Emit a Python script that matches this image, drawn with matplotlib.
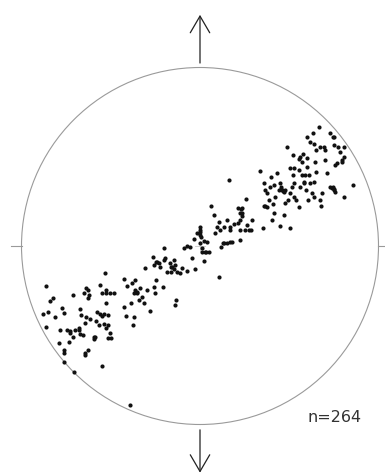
"""Equal-area net, 264 poles, n label bottom right."""
import numpy as np
import matplotlib
matplotlib.use("Agg")
import matplotlib.pyplot as plt
from matplotlib.patches import Circle

# digitised pole positions, net radius = R_NET units (east +, north +)
R_NET = 536
east = [
    -462, -442, -451, -472, -456, -462, -414, -409, -436, -421,
    -399, -391, -374, -381, -424, -394, -409, -407, -409, -379,
    -381, -349, -342, -334, -337, -359, -356, -341, -329, -344,
    -364, -359, -351, -337, -346, -319, -317, -312, -304, -299,
    -287, -277, -294, -282, -281, -269, -257, -284, -299, -289,
    -281, -277, -266, -294, -271, -309, -229, -219, -229, -221,
    -201, -199, -207, -194, -189, -181, -194, -204, -174, -167,
    -149, -184, -159, -139, -134, -111, -131, -164, -141, -129,
    -119, -107, -104, -89, -84, -74, -69, -59, -54, -39,
    -14, -109, -79, -71, -74, -124, -139, -99, -87, -49,
    -39, -29, -24, 1, 6, 16, 26, 13, 21, 11,
    -1, -1, -9, -19, 1, 33, 41, 56, 61, 71,
    81, 63, 69, 81, 96, 91, 101, 113, 119, 121,
    58, 86, 91, 46, 51, 114, 119, 121, 126, 126,
    139, 146, 141, 153, 156, 136, 179, 191, 194, 201,
    206, 191, 201, 189, 216, 221, 219, 226, 213, 231,
    239, 236, 246, 251, 256, 243, 256, 251, 241, 269,
    263, 271, 276, 281, 279, 281, 271, 261, 279, 296,
    301, 306, 309, 313, 319, 301, 306, 316, 326, 331,
    341, 323, 336, 341, 359, 363, 366, 349, 321, 346,
    349, 361, 356, 339, 321, 331, 341, 391, 401, 401,
    413, 421, 433, 431, 426, 411, 406, 376, 376, 371,
    391, 396, 401, 406, 431, 459, 381, 296, 311, 281,
    289, 296, 211, 221, -344, -316, -277, -294, -364, -389,
    -336, -281, 1, 4, 123, 125, 6, 19, -211, 244,
    249, 196, 401, 398, 399, 426, -197, -189, -87, -79,
    -131, 73, 91, 321,
]
north = [
    -119, -155, -165, -204, -197, -242, -187, -202, -212, -252,
    -252, -262, -252, -272, -292, -287, -312, -322, -347, -377,
    -147, -142, -127, -147, -157, -190, -207, -212, -220, -232,
    -247, -265, -267, -312, -327, -272, -280, -224, -237, -204,
    -204, -207, -142, -132, -172, -142, -140, -80, -117, -234,
    -247, -275, -275, -359, -262, -197, -100, -120, -182, -210,
    -237, -212, -172, -132, -142, -127, -102, -112, -152, -172,
    -194, -162, -132, -122, -142, -124, -102, -67, -32, -47,
    -62, -7, -37, -52, -62, -57, -77, -82, -67, -74,
    -70, -42, -42, -162, -177, -52, -57, -77, -77, -7,
    0, -2, -37, 8, -7, -17, -19, -44, 13, 16,
    33, 48, 38, 20, 58, 120, 93, 73, 48, 58,
    78, -2, 8, 10, 13, 48, 65, 68, 48, 18,
    -94, 198, 58, 38, 58, 113, 98, 78, 113, 90,
    140, 48, 63, 48, 78, 48, 226, 190, 168, 158,
    138, 120, 116, 53, 78, 98, 126, 148, 208, 218,
    190, 168, 168, 163, 168, 178, 128, 93, 61, 53,
    138, 158, 178, 188, 213, 233, 233, 298, 273, 260,
    268, 253, 276, 188, 168, 178, 213, 213, 213, 190,
    193, 138, 158, 148, 138, 120, 158, 223, 238, 253,
    288, 298, 356, 338, 326, 313, 306, 338, 328, 303,
    298, 283, 298, 268, 258, 248, 243, 258, 288, 298,
    178, 173, 168, 163, 148, 183, 218, 228, 193, 148,
    138, 118, 178, 183, -322, -274, -237, -210, -252, -255,
    -132, -142, 43, 26, 110, 98, -17, -17, -477, 170,
    166, 120, 170, 176, 326, 253, -140, -137, -62, -70,
    -47, 10, 11, 263,
]
n_label = f"n={len(east)}"

x = np.array(east) / R_NET
y = np.array(north) / R_NET

W, H = 385, 474
cx, cy, rad = 200, 246, 178.5  # where the net sits in the picture

fig = plt.figure(figsize=(W / 100, H / 100), dpi=100)
ax = fig.add_axes([0, 0, 1, 1])
ax.set_xlim(-cx / rad, (W - cx) / rad)
ax.set_ylim(-(H - cy) / rad, cy / rad)
ax.set_aspect("equal")
ax.axis("off")

ax.add_patch(Circle((0, 0), 1, fill=False, ec="#9a9a9a", lw=0.8))
# east / west ticks and faint centre cross
ax.plot([-1.06, -1.0], [0, 0], color="#9a9a9a", lw=0.8)
ax.plot([1.0, 1.06], [0, 0], color="#9a9a9a", lw=0.8)
ax.plot([-0.03, 0.03], [0, 0], color="#c8c8c8", lw=0.6)
ax.plot([0, 0], [-0.03, 0.03], color="#c8c8c8", lw=0.6)

arrow = dict(arrowstyle="->,head_length=1.2,head_width=0.7",
             color="#222222", lw=0.9, shrinkA=0, shrinkB=0)
ax.annotate("", xy=(0, 1.295), xytext=(0, 1.025), arrowprops=arrow)
ax.annotate("", xy=(0, -1.27), xytext=(0, -1.03), arrowprops=arrow)

ax.scatter(x, y, s=9, c="#111111", linewidths=0, zorder=3)

ax.text(0.605, -0.985, n_label, fontsize=11.5, color="#333333",
        ha="left", va="baseline")

fig.savefig("out.png", dpi=100)
